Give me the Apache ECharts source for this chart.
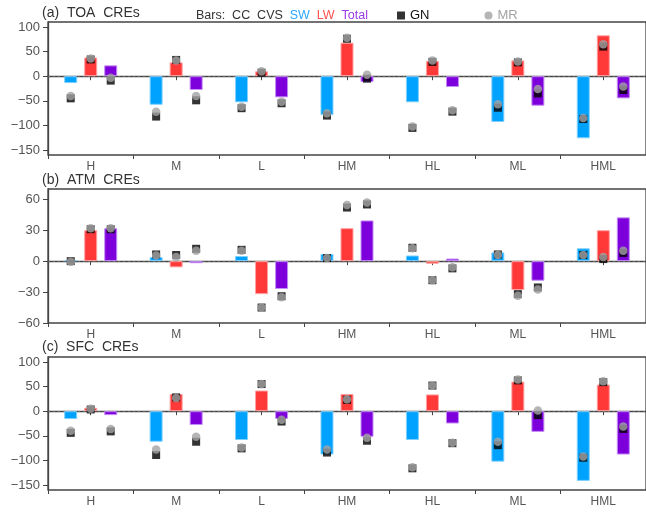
<!DOCTYPE html>
<html><head><meta charset="utf-8">
<script src="https://cdn.jsdelivr.net/npm/echarts@6/dist/echarts.min.js"></script>
<style>html,body{margin:0;padding:0;background:#fff;}#c{width:646px;height:512px;}</style>
</head><body><div id="c"></div>
<script>
const categories = ['H','M','L','HM','HL','ML','HML'];

// (a) TOA CREs
const toaSW  = [-14, -58, -53, -79, -53, -93, -126];
const toaLW  = [38, 28, 10, 68, 31, 32, 83];
const toaTot = [22, -28, -43, -12, -22, -60, -45];
const toaSW_GN  = [-45, -82, -65, -80, -105, -64, -87];
const toaSW_MR  = [-40, -72, -62, -75, -102, -57, -85];
const toaLW_GN  = [34, 33, 7, 76, 29, 28, 60];
const toaLW_MR  = [36, 32, 10, 78, 32, 30, 65];
const toaTot_GN = [-9, -49, -55, -5, -72, -35, -28];
const toaTot_MR = [-3, -40, -52, 3, -69, -26, -21];

// (b) ATM CREs
const atmSW  = [1, 4, 5, 7, 5.5, 8.5, 12.5];
const atmLW  = [30, -6, -32, 32, -2.5, -28, 30];
const atmTot = [32, -2, -27, 39.5, 2.5, -19, 42.5];
const atmSW_GN  = [0, 6.5, 11, 3, 13, 6.5, 6];
const atmSW_MR  = [-0.5, 5.5, 10, 3, 12.5, 6, 6];
const atmLW_GN  = [31, 6, -45, 52, -18.5, -32, 2];
const atmLW_MR  = [32, 4, -45, 54.5, -18.5, -33.5, 4];
const atmTot_GN = [31, 12, -34, 55, -7, -25.5, 8];
const atmTot_MR = [32, 10, -35, 57, -6, -27.5, 10];

// (c) SFC CREs
const sfcSW  = [-16, -62, -58.5, -88, -58.5, -102.5, -141.5];
const sfcLW  = [7, 35, 42, 35, 34, 60, 54];
const sfcTot = [-8, -28, -15.5, -52, -25, -42, -88];
const sfcSW_GN  = [-44, -89, -75.5, -84, -116, -69, -94.5];
const sfcSW_MR  = [-39.5, -78, -73.5, -78, -114, -62, -92];
const sfcLW_GN  = [3.5, 28, 55, 23, 52, 62.5, 59];
const sfcLW_MR  = [5, 27, 55, 24, 52, 64.5, 61];
const sfcTot_GN = [-41, -62, -21, -60, -65, -8, -36];
const sfcTot_MR = [-36, -52, -17.5, -54, -64, 1.5, -31];

const panelTitles = ['(a)  TOA  CREs', '(b)  ATM  CREs', '(c)  SFC  CREs'];
const yTicksAC = [-150, -100, -50, 0, 50, 100];
const yTicksB  = [-60, -30, 0, 30, 60];

const panels = [
  {bars:[toaSW,toaLW,toaTot], gn:[toaSW_GN,toaLW_GN,toaTot_GN], mr:[toaSW_MR,toaLW_MR,toaTot_MR], min:-160, max:110, ticks:yTicksAC, top:22, height:133, titleTop:6},
  {bars:[atmSW,atmLW,atmTot], gn:[atmSW_GN,atmLW_GN,atmTot_GN], mr:[atmSW_MR,atmLW_MR,atmTot_MR], min:-60, max:70, ticks:yTicksB, top:189, height:134, titleTop:173},
  {bars:[sfcSW,sfcLW,sfcTot], gn:[sfcSW_GN,sfcLW_GN,sfcTot_GN], mr:[sfcSW_MR,sfcLW_MR,sfcTot_MR], min:-160, max:110, ticks:yTicksAC, top:357, height:133, titleTop:340}
];

const FONT = '"Liberation Sans", Arial, sans-serif';
const NARROW = '"Liberation Sans Narrow", "Liberation Sans", sans-serif';
const barColors = ['#00a2ff', '#ff3838', '#7d00dc'];
const barBorders = ['#7fd0ff', '#ffa0a0', '#c48cf5'];
const offsets = [-20, 0, 20];

const grid = [], xAxis = [], yAxis = [], series = [], title = [];
panels.forEach((p, i) => {
  grid.push({left:48, width:601, top:p.top, height:p.height, show:true, borderColor:'#444', borderWidth:1.3, backgroundColor:'transparent'});
  xAxis.push({type:'category', gridIndex:i, data:categories, boundaryGap:true, position:'bottom',
    axisLine:{show:true, lineStyle:{color:'#444', width:1.3}},
    axisTick:{show:true, alignWithLabel:true, length:4, lineStyle:{color:'#444'}},
    axisLabel:{color:'#555', fontFamily:NARROW, fontSize:12, margin:6}});
  xAxis.push({type:'category', gridIndex:i, data:categories, boundaryGap:true, position:'bottom', offset:0,
    axisLine:{show:false}, axisTick:{show:true, alignWithLabel:false, length:4, lineStyle:{color:'#444'}},
    axisLabel:{show:false}});
  yAxis.push({type:'value', gridIndex:i, min:p.min, max:p.max, splitLine:{show:false},
    axisLine:{show:true, lineStyle:{color:'#444', width:1.3}},
    axisTick:{show:true, length:5, customValues:p.ticks, lineStyle:{color:'#444'}},
    axisLabel:{color:'#555', fontFamily:FONT, fontSize:13, margin:8, customValues:p.ticks,
      formatter:v => String(v).replace('-', '\u2212')}});
  title.push({text:panelTitles[i], left:42, top:p.titleTop, padding:0,
    textStyle:{color:'#333', fontFamily:FONT, fontSize:14, fontWeight:'normal'}});
  p.bars.forEach((d, k) => {
    const s = {type:'bar', xAxisIndex:2*i, yAxisIndex:i, data:d, barWidth:13, barGap:'54%',
      itemStyle:{color:barColors[k], borderColor:barBorders[k], borderWidth:1}, z:2};
    if (k === 0) {
      s.markLine = {silent:true, symbol:'none', label:{show:false},
        lineStyle:{type:[2,3], color:'#666', width:1}, data:[{yAxis:0}], z:1};
    }
    series.push(s);
  });
  p.gn.forEach((d, k) => {
    series.push({type:'scatter', name:'GN', xAxisIndex:2*i, yAxisIndex:i, data:d, symbol:'rect', symbolSize:8,
      symbolOffset:[offsets[k], 0], itemStyle:{color:'#000'}, z:3});
  });
  p.mr.forEach((d, k) => {
    series.push({type:'scatter', name:'MR', xAxisIndex:2*i, yAxisIndex:i, data:d, symbol:'circle', symbolSize:8.5,
      symbolOffset:[offsets[k], 0], itemStyle:{color:'#a3a3a3'}, z:4});
  });
});

title.push({text:'Bars:  CC  CVS  {sw|SW}  {lw|LW}  {tot|Total}', left:196, top:9, padding:0,
  textStyle:{color:'#333', fontFamily:FONT, fontSize:12.5, fontWeight:'normal',
    rich:{sw:{color:'#2aa8ff', fontFamily:FONT, fontSize:12.5},
          lw:{color:'#ff5050', fontFamily:FONT, fontSize:12.5},
          tot:{color:'#9a3ce8', fontFamily:FONT, fontSize:12.5}}}});

const chart = echarts.init(document.getElementById('c'), null, {renderer:'canvas'});
chart.setOption({
  animation:false,
  backgroundColor:'#fff',
  title:title,
  legend:{left:397, top:9, padding:0, itemWidth:8, itemHeight:8, itemGap:55, selectedMode:false,
    textStyle:{fontFamily:FONT, fontSize:13},
    data:[{name:'GN', icon:'rect', itemStyle:{color:'#000'}, textStyle:{color:'#111'}},
          {name:'MR', icon:'circle', itemStyle:{color:'#a3a3a3'}, textStyle:{color:'#a3a3a3'}}]},
  grid:grid, xAxis:xAxis, yAxis:yAxis, series:series
});
</script></body></html>
